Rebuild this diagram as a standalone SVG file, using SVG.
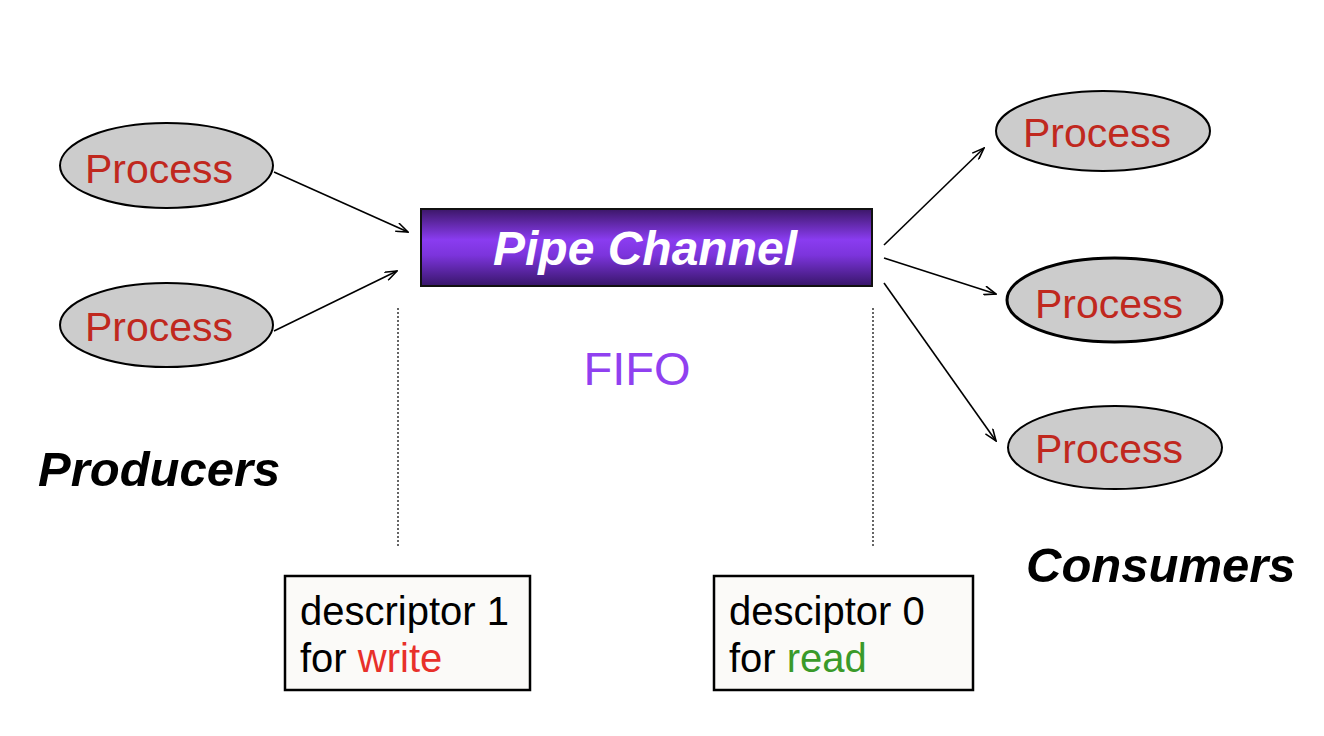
<svg xmlns="http://www.w3.org/2000/svg" width="1324" height="736" viewBox="0 0 1324 736">
<style>
.ell{fill:#cccccc;stroke:#000;stroke-width:2}
.ptxt{font-family:"Liberation Sans",Arial,sans-serif;font-size:41px;fill:#c0281e}
.conn{stroke:#000;stroke-width:1.6;fill:none;marker-end:url(#arr)}
.dot{stroke:#333;stroke-width:1.5;stroke-dasharray:2,2}
.box{fill:#fbfaf8;stroke:#000;stroke-width:2.5}
.dtxt{font-family:"Liberation Sans",Arial,sans-serif;font-size:40px;fill:#000}
.lbl{font-family:"Liberation Sans",Arial,sans-serif;font-size:49px;font-weight:bold;font-style:italic;fill:#000}
</style>
<defs>
<linearGradient id="pg" x1="0" y1="0" x2="0" y2="1">
<stop offset="0" stop-color="#3c1768"/>
<stop offset="0.4" stop-color="#8a3cf0"/>
<stop offset="0.6" stop-color="#7c34dc"/>
<stop offset="1" stop-color="#38166a"/>
</linearGradient>
<marker id="arr" viewBox="0 0 14 10" refX="13" refY="5" markerWidth="14" markerHeight="10" markerUnits="userSpaceOnUse" orient="auto">
<path d="M1,0.5 L13,5 L1,9.5" fill="none" stroke="#000" stroke-width="1.6"/>
</marker>
</defs>
<rect width="1324" height="736" fill="#fff"/>
<g id="connectors">
<line class="conn" x1="274" y1="172" x2="408" y2="232"/>
<line class="conn" x1="274" y1="331" x2="397" y2="271"/>
<line class="conn" x1="884" y1="245" x2="984" y2="148"/>
<line class="conn" x1="884" y1="258" x2="996" y2="294"/>
<line class="conn" x1="884" y1="283" x2="996" y2="441"/>
<line class="dot" x1="398" y1="308" x2="398" y2="548"/>
<line class="dot" x1="873" y1="308" x2="873" y2="548"/>
</g>
<g id="producer1">
<ellipse class="ell" cx="166.5" cy="165.5" rx="106.5" ry="42.5"/>
<text class="ptxt" x="85" y="183">Process</text>
</g>
<g id="producer2">
<ellipse class="ell" cx="166.5" cy="325" rx="106.5" ry="42"/>
<text class="ptxt" x="85" y="341">Process</text>
</g>
<g id="pipe">
<rect x="421" y="209" width="451" height="77" fill="url(#pg)" stroke="#111" stroke-width="2"/>
<text x="645" y="265" text-anchor="middle" font-family="Liberation Sans,Arial,sans-serif" font-size="48" font-weight="bold" font-style="italic" fill="#fff">Pipe Channel</text>
</g>
<g id="fifo">
<text x="637" y="385" text-anchor="middle" font-family="Liberation Sans,Arial,sans-serif" font-size="47" fill="#9040f0">FIFO</text>
</g>
<g id="consumer1">
<ellipse class="ell" cx="1103" cy="131" rx="107" ry="40"/>
<text class="ptxt" x="1023" y="147">Process</text>
</g>
<g id="consumer2">
<ellipse class="ell" cx="1114.5" cy="300" rx="107.5" ry="42" style="stroke-width:3"/>
<text class="ptxt" x="1035" y="318">Process</text>
</g>
<g id="consumer3">
<ellipse class="ell" cx="1115" cy="447.5" rx="107" ry="41.5"/>
<text class="ptxt" x="1035" y="463">Process</text>
</g>
<g id="producers-label">
<text class="lbl" x="38" y="486">Producers</text>
</g>
<g id="consumers-label">
<text class="lbl" x="1026" y="582">Consumers</text>
</g>
<g id="write-box">
<rect class="box" x="285" y="576" width="245" height="114"/>
<text class="dtxt" x="300" y="625">descriptor 1</text>
<text class="dtxt" x="300" y="672">for <tspan fill="#e8302a">write</tspan></text>
</g>
<g id="read-box">
<rect class="box" x="714" y="576" width="259" height="114"/>
<text class="dtxt" x="729" y="625">desciptor 0</text>
<text class="dtxt" x="729" y="672">for <tspan fill="#3a9a2a">read</tspan></text>
</g>
</svg>
